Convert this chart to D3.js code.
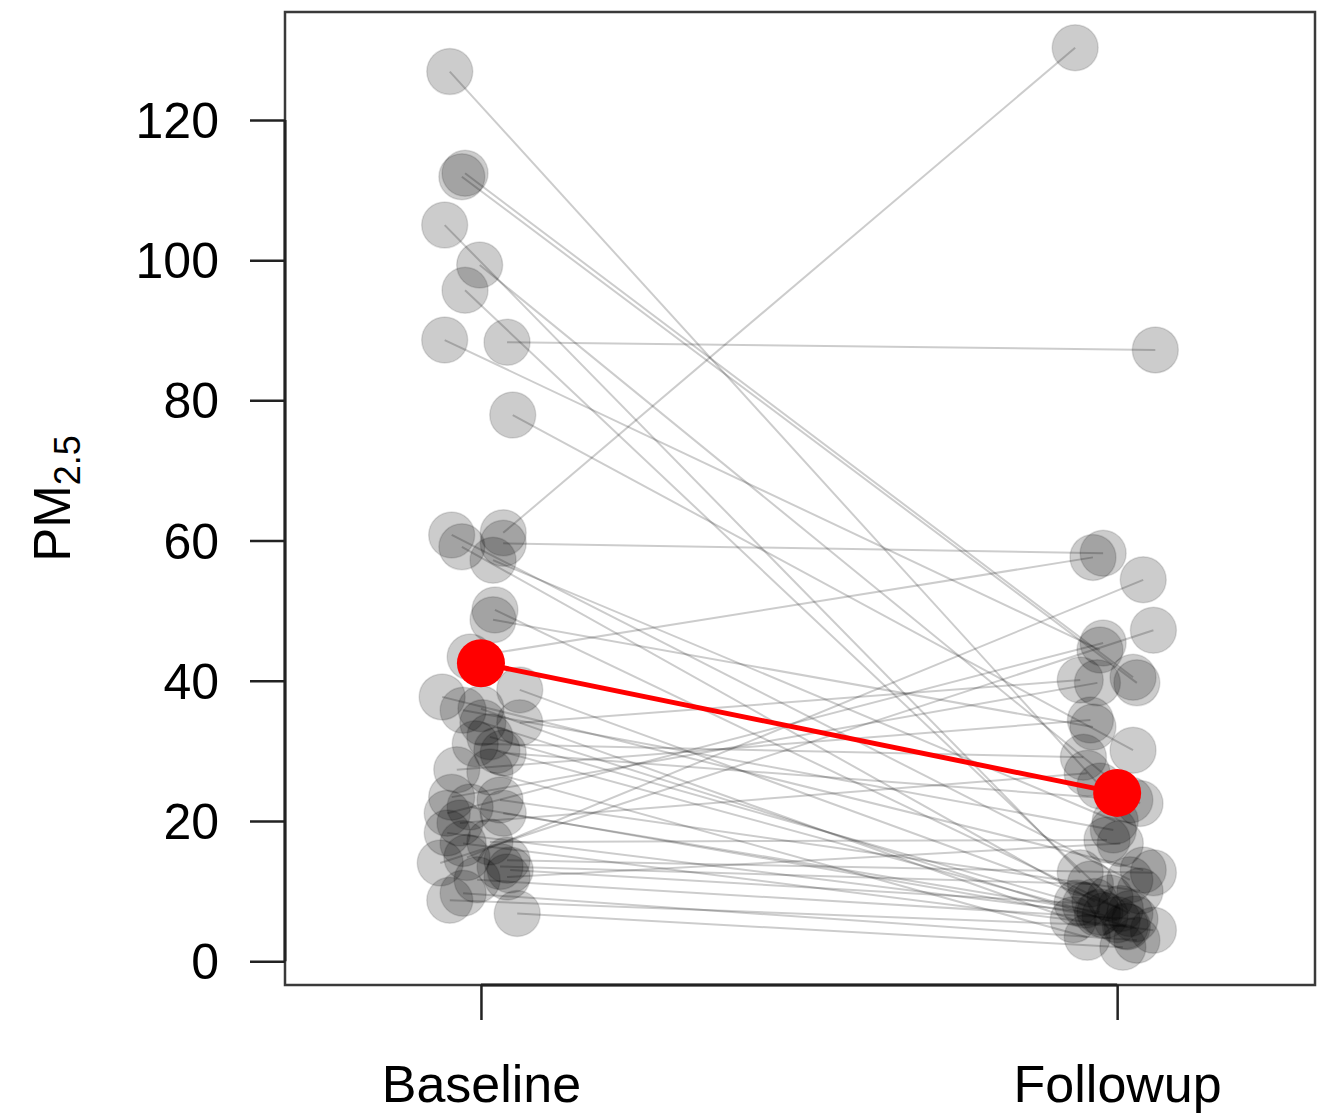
<!DOCTYPE html>
<html>
<head>
<meta charset="utf-8">
<script src="https://cdn.jsdelivr.net/npm/d3@7"></script>
<style>
  body { margin: 0; background: #fff; }
  text { font-family: "Liberation Sans", Arial, sans-serif; }
</style>
</head>
<body>
<div id="chart"></div>
<script>
const width = 1328;
const height = 1117;
const margin = { top: 12, right: 13, bottom: 132, left: 285 };

// groups on the x axis (positions 1 and 2)
const groups = ["Baseline", "Followup"];
const yTicks = [0, 20, 40, 60, 80, 100, 120];

// paired PM2.5 values (index i = same subject)
const baseline = [126.9, 112.4, 111.9, 105.0, 99.3, 95.7, 88.6, 88.3, 77.9, 61.1,
  60.8, 59.6, 59.1, 57.2, 50.1, 48.7, 43.4, 38.7, 37.7, 36.0,
  35.8, 34.0, 34.0, 32.0, 31.0, 30.1, 29.7, 27.3, 27.0, 23.4,
  23.0, 22.0, 21.1, 21.1, 19.7, 18.3, 17.0, 16.8, 14.8, 14.4,
  14.0, 13.5, 13.0, 12.0, 11.6, 9.7, 8.7, 6.8];
const followup = [25.0, 40.5, 39.7, 12.6, 22.5, 9.0, 44.4, 87.2, 30.1, 130.3,
  11.6, 58.2, 8.5, 20.0, 6.8, 33.4, 57.6, 7.5, 13.0, 5.9,
  18.7, 40.1, 4.9, 8.0, 29.1, 6.5, 23.0, 34.4, 3.4, 39.7,
  10.0, 5.9, 45.4, 7.0, 26.8, 6.8, 17.3, 4.4, 54.4, 12.6,
  47.2, 11.0, 8.3, 16.8, 6.0, 3.0, 5.0, 2.0];

// horizontal jitter of each point (x axis units)
const baselineJitter = [-0.049, -0.025, -0.030, -0.057, -0.002, -0.025, -0.057, 0.041, 0.050, 0.035,
  -0.046, 0.035, -0.030, 0.019, 0.022, 0.019, -0.017, 0.061, -0.061, 0.000,
  -0.028, 0.061, 0.003, 0.014, -0.009, 0.025, 0.035, -0.038, 0.014, -0.046,
  0.030, -0.017, -0.053, 0.035, -0.033, -0.053, 0.014, -0.028, -0.022, 0.041,
  -0.064, 0.030, 0.046, 0.041, -0.006, -0.028, -0.049, 0.057];
const followupJitter = [-0.027, 0.025, 0.031, -0.058, 0.036, -0.011, -0.027, 0.060, 0.025, -0.066,
  0.020, -0.022, -0.035, -0.003, 0.020, -0.038, -0.038, 0.005, 0.041, -0.069,
  -0.006, -0.058, 0.016, -0.050, -0.053, -0.019, 0.020, -0.042, -0.047, -0.031,
  0.036, 0.000, -0.022, -0.027, -0.047, -0.031, -0.016, 0.057, 0.041, 0.057,
  0.057, -0.042, -0.063, 0.005, 0.028, 0.031, 0.013, 0.009];

// group means (red)
const means = [42.5, 24.0];

const pairs = baseline.map((b, i) => ({
  x1: 1 + baselineJitter[i], y1: b,
  x2: 2 + followupJitter[i], y2: followup[i]
}));

const svg = d3.select("#chart")
  .append("svg")
  .attr("width", width)
  .attr("height", height);

const x = d3.scaleLinear()
  .domain([0.692, 2.311])
  .range([margin.left, width - margin.right]);
const y = d3.scaleLinear()
  .domain([-3.4, 135.4])
  .range([height - margin.bottom, margin.top]);

// paired lines
svg.append("g")
  .selectAll("line")
  .data(pairs)
  .join("line")
  .attr("x1", d => x(d.x1))
  .attr("y1", d => y(d.y1))
  .attr("x2", d => x(d.x2))
  .attr("y2", d => y(d.y2))
  .attr("stroke", "rgba(0,0,0,0.2)")
  .attr("stroke-width", 2);

// points
const pts = pairs.flatMap(d => [{ x: d.x1, v: d.y1 }, { x: d.x2, v: d.y2 }]);
svg.append("g")
  .selectAll("circle")
  .data(pts)
  .join("circle")
  .attr("cx", d => x(d.x))
  .attr("cy", d => y(d.v))
  .attr("r", 23)
  .attr("fill", "rgba(0,0,0,0.2)")
  .attr("stroke", "rgba(0,0,0,0.12)")
  .attr("stroke-width", 1.5);

// means
svg.append("line")
  .attr("x1", x(1)).attr("y1", y(means[0]))
  .attr("x2", x(2)).attr("y2", y(means[1]))
  .attr("stroke", "#ff0000")
  .attr("stroke-width", 5);
svg.append("g")
  .selectAll("circle")
  .data(means)
  .join("circle")
  .attr("cx", (d, i) => x(i + 1))
  .attr("cy", d => y(d))
  .attr("r", 24)
  .attr("fill", "#ff0000");

// box
svg.append("rect")
  .attr("x", margin.left)
  .attr("y", margin.top)
  .attr("width", width - margin.left - margin.right)
  .attr("height", height - margin.top - margin.bottom)
  .attr("fill", "none")
  .attr("stroke", "#3a3a3a")
  .attr("stroke-width", 2.5);

// y axis
const yAxis = svg.append("g")
  .attr("transform", `translate(${margin.left},0)`)
  .call(d3.axisLeft(y).tickValues(yTicks).tickSize(35).tickPadding(31));
yAxis.select(".domain").remove();
yAxis.append("line")
  .attr("y1", y(yTicks[0]))
  .attr("y2", y(yTicks[yTicks.length - 1]))
  .attr("stroke", "#222")
  .attr("stroke-width", 3);
yAxis.selectAll(".tick line").attr("stroke", "#222").attr("stroke-width", 2.5);
yAxis.selectAll(".tick text")
  .attr("fill", "#000")
  .style("font-size", "50px")
  .attr("dy", "0.35em");

// x axis
const xAxis = svg.append("g")
  .attr("transform", `translate(0,${height - margin.bottom})`)
  .call(d3.axisBottom(x).tickValues([1, 2]).tickFormat(d => groups[d - 1]).tickSize(35).tickPadding(45));
xAxis.select(".domain").remove();
xAxis.append("line")
  .attr("x1", x(1))
  .attr("x2", x(2))
  .attr("stroke", "#222")
  .attr("stroke-width", 3);
xAxis.selectAll(".tick line").attr("stroke", "#222").attr("stroke-width", 2.5);
xAxis.selectAll(".tick text")
  .attr("fill", "#000")
  .style("font-size", "52px");

// y label PM2.5
const ylab = svg.append("text")
  .attr("transform", `translate(70,${(margin.top + height - margin.bottom) / 2}) rotate(-90)`)
  .attr("text-anchor", "middle")
  .attr("fill", "#000")
  .style("font-size", "51px");
ylab.append("tspan").text("PM");
ylab.append("tspan")
  .attr("dy", 10)
  .style("font-size", "36px")
  .text("2.5");
</script>
</body>
</html>
